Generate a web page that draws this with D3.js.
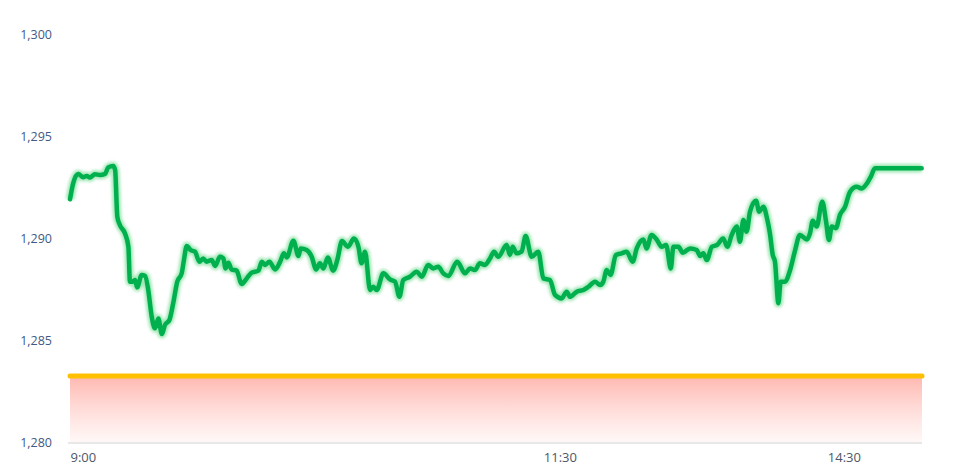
<!DOCTYPE html>
<html>
<head>
<meta charset="utf-8">
<script src="https://cdn.jsdelivr.net/npm/d3@7"></script>
<style>
  html, body { margin: 0; padding: 0; background: #fff; }
  svg { display: block; }
</style>
</head>
<body>
<svg id="chart" width="970" height="471"></svg>
<script>
// ---- DATA ----
// trading minutes since 9:00 (lunch break removed: 11:30 -> 150, 13:00 -> 150)
const minutes = [0,1,2.6,4.2,5.3,6.3,7.9,9.5,11.1,12.1,13.7,14.3,15,15.8,17.4,18.5,19,19.9,20.6,21.3,22.7,23.8,24.8,25.9,26.9,28,29.1,30.1,31.5,32.7,34,35.4,36.1,37,38.2,39.6,41,42.2,43.3,44.9,46,47.5,48.6,49.3,50.2,51.2,52.8,54.4,56,57.6,59.7,60.8,61.8,63.2,65,66.6,67.8,68.7,70.8,72.4,73.1,75,76.6,78,79.2,80.3,81.7,83.4,84.7,86.2,88.1,90,91.4,92.4,93.5,95.1,96.1,97.2,99.3,101.4,103,104.4,105.6,107.7,109.9,111.5,113.5,115.1,116.7,118.3,119.9,122.7,125.2,126.8,128.3,129.9,131.5,133.1,134.4,135.7,138.4,139.4,140.3,141.5,143.1,144.4,146.3,148.4,150,152.1,153.7,155.8,157.4,158.5,160.6,162.7,164.3,166.4,168,169,170.1,171.3,173,174.8,176.4,178.3,179.6,181.7,182.7,184.3,185.9,187.5,188.9,190.4,191.2,192.8,194.2,196.5,198.6,199.7,200.7,201.8,203.4,205.1,207,208.3,209.7,211.3,212.3,213.4,214.4,215.5,217.4,218.4,219.7,221,221.8,222.7,223.4,224.5,225.2,226.6,228.2,229.8,231.3,233.5,234.5,235.4,236.6,238.4,239.6,240.5,241.4,242.7,244,245.6,247.2,249.3,250.9,252.7,253.8,255.1,269.9];
const indexValues = [1291.90,1292.68,1293.14,1292.98,1293.04,1292.96,1293.12,1293.09,1293.14,1293.46,1293.53,1293.33,1291.04,1290.64,1290.23,1289.57,1287.86,1287.86,1287.94,1287.58,1288.19,1288.14,1287.45,1286.14,1285.57,1286.06,1285.29,1285.74,1285.98,1286.80,1287.86,1288.27,1288.92,1289.61,1289.41,1289.33,1288.84,1289.00,1288.84,1288.92,1288.63,1289.08,1289.00,1288.51,1288.79,1288.46,1288.40,1287.75,1288.02,1288.30,1288.40,1288.84,1288.68,1288.84,1288.46,1288.84,1289.25,1289.05,1289.87,1289.12,1289.49,1289.41,1289.08,1288.46,1288.76,1288.51,1289.05,1288.40,1288.92,1289.85,1289.57,1289.98,1289.57,1288.76,1289.33,1287.45,1287.61,1287.45,1288.27,1287.97,1287.86,1287.12,1287.94,1288.10,1288.35,1288.10,1288.68,1288.51,1288.59,1288.27,1288.14,1288.84,1288.27,1288.51,1288.43,1288.76,1288.68,1289.00,1289.33,1289.08,1289.66,1289.17,1289.57,1289.25,1289.33,1290.10,1289.08,1289.33,1288.02,1287.94,1287.21,1287.04,1287.37,1287.12,1287.37,1287.45,1287.61,1287.86,1287.70,1287.86,1288.43,1288.19,1289.17,1289.25,1289.33,1288.84,1289.49,1289.93,1289.49,1290.15,1289.93,1289.57,1289.66,1288.51,1289.57,1289.57,1289.28,1289.49,1289.41,1289.12,1289.25,1288.92,1289.57,1289.66,1289.98,1289.57,1290.15,1290.56,1289.82,1290.88,1290.31,1291.29,1291.83,1291.29,1291.53,1290.88,1290.23,1289.17,1288.84,1286.80,1287.86,1287.86,1288.43,1289.41,1290.15,1289.93,1290.23,1290.85,1290.56,1291.78,1290.80,1289.90,1290.56,1290.48,1291.13,1291.53,1292.27,1292.51,1292.43,1292.71,1293.01,1293.42,1293.42];
const referenceValue = 1283.24;
const sessionLength = 270; // trading minutes shown
const xTickMinutes = [0, 150, 240];
const xTickLabels = ["9:00", "11:30", "14:30"];
const yTicks = [1280, 1285, 1290, 1295, 1300];

// ---- CHART ----
const svg = d3.select("#chart");
const x = d3.scaleLinear().domain([0, sessionLength]).range([70, 922]);
const y = d3.scaleLinear().domain([1280, 1300]).range([442, 34]);

const defs = svg.append("defs");
const grad = defs.append("linearGradient").attr("id", "refGrad")
  .attr("x1", 0).attr("y1", 0).attr("x2", 0).attr("y2", 1);
grad.append("stop").attr("offset", "0%").attr("stop-color", "#ffaaa2").attr("stop-opacity", 0.85);
grad.append("stop").attr("offset", "100%").attr("stop-color", "#fff3f1").attr("stop-opacity", 0.6);

const blur = defs.append("filter").attr("id", "glow")
  .attr("x", "-5%").attr("y", "-20%").attr("width", "110%").attr("height", "140%");
blur.append("feGaussianBlur").attr("stdDeviation", 1.6);

const blurY = defs.append("filter").attr("id", "glowY")
  .attr("x", "-5%").attr("y", "-200%").attr("width", "110%").attr("height", "500%");
blurY.append("feGaussianBlur").attr("stdDeviation", 1.5);

// reference area
svg.append("path")
  .datum([0, sessionLength])
  .attr("fill", "url(#refGrad)")
  .attr("d", d3.area().x(d => x(d)).y0(y(1280)).y1(y(referenceValue)));

// bottom axis line
svg.append("line")
  .attr("x1", 68).attr("x2", 922)
  .attr("y1", y(1280) + 1).attr("y2", y(1280) + 1)
  .attr("stroke", "#d0d0d0").attr("stroke-width", 1);

// reference (yellow) line with glow
const refLine = d3.line().x(d => x(d)).y(() => y(referenceValue));
svg.append("path").datum([0, sessionLength])
  .attr("d", refLine).attr("fill", "none")
  .attr("stroke", "#ffb8a8").attr("stroke-width", 8).attr("opacity", 0.7)
  .attr("filter", "url(#glowY)");
svg.append("path").datum([0, sessionLength])
  .attr("d", refLine).attr("fill", "none")
  .attr("stroke", "#ffc000").attr("stroke-width", 5).attr("stroke-linecap", "round");

// index line
const pts = minutes.map((m, i) => [m, indexValues[i]]);
const line = d3.line().x(d => x(d[0])).y(d => y(d[1])).curve(d3.curveMonotoneX);
svg.append("path").datum(pts)
  .attr("d", line).attr("fill", "none")
  .attr("stroke", "#8fe3a8").attr("stroke-width", 8.5).attr("opacity", 0.85)
  .attr("stroke-linejoin", "round").attr("filter", "url(#glow)");
svg.append("path").datum(pts)
  .attr("d", line).attr("fill", "none")
  .attr("stroke", "#00b04f").attr("stroke-width", 4.5)
  .attr("stroke-linejoin", "round").attr("stroke-linecap", "round");

// y axis labels
const yAxis = d3.axisLeft(y).tickValues(yTicks).tickSize(0).tickPadding(0)
  .tickFormat(d3.format(","));
const gy = svg.append("g").attr("transform", "translate(52,0)").call(yAxis);
gy.select(".domain").remove();
gy.selectAll("text")
  .attr("fill", "#3f5a85")
  .style("font-family", "'Open Sans', sans-serif")
  .style("font-size", "12.5px");

// x axis labels
const xAxis = d3.axisBottom(x).tickValues(xTickMinutes).tickSize(0).tickPadding(0)
  .tickFormat((d, i) => xTickLabels[i]);
const gx = svg.append("g").attr("transform", "translate(0,453)").call(xAxis);
gx.select(".domain").remove();
gx.selectAll("text")
  .attr("text-anchor", "start")
  .attr("fill", "#4e5766")
  .style("font-family", "'Open Sans', sans-serif")
  .style("font-size", "13px");
</script>
</body>
</html>
